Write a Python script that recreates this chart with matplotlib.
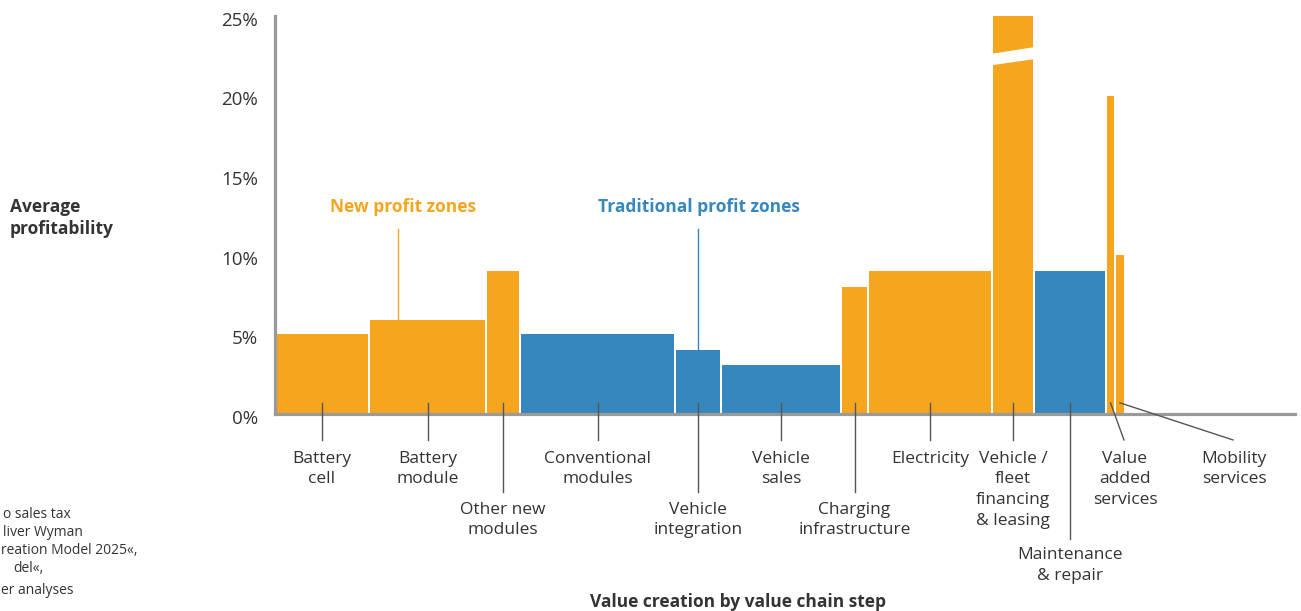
import matplotlib
matplotlib.use("Agg")
import matplotlib.pyplot as plt
from matplotlib.patches import Polygon

plt.rcParams['font.family'] = ['Open Sans', 'DejaVu Sans']

# =====================
#   DATA
# =====================
steps = ["Battery\ncell", "Battery\nmodule", "Other new\nmodules", "Conventional\nmodules",
         "Vehicle\nintegration", "Vehicle\nsales", "Charging\ninfrastructure", "Electricity",
         "Vehicle /\nfleet\nfinancing\n& leasing", "Maintenance\n& repair",
         "Value\nadded\nservices", "Mobility\nservices"]
value_creation = [95, 117, 34, 155, 46, 120, 27, 124, 42, 72, 9, 10]   # bar widths
profitability = [5.0, 5.9, 9.0, 5.0, 4.0, 3.1, 8.0, 9.0, 40.0, 9.0, 20.0, 10.0]
zone = ["new", "new", "new", "trad", "trad", "trad", "new", "new", "new", "trad", "new", "new"]
label_row = [0, 0, 1, 0, 1, 0, 1, 0, 0, 2, 0, 0]
yticks = [0, 5, 10, 15, 20, 25]
Y_CAP = 25

ORANGE = "#F6A51E"
BLUE = "#3787BF"
GRAY = "#9a9a9a"
TEXT = "#333333"
LEADER = "#555555"
GAP = 2
FS = 12.5

fig = plt.figure(figsize=(13.01, 6.11), dpi=100)
ax = fig.add_axes([275 / 1301, 1 - 414 / 611, 1020 / 1301, 398 / 611])
ax.set_xlim(0, 1020)
ax.set_ylim(0, Y_CAP)

lefts = []
x = 0
for w in value_creation:
    lefts.append(x)
    x += w
centers = [l + (w - GAP) / 2 for l, w in zip(lefts, value_creation)]

colors = [ORANGE if z == "new" else BLUE for z in zone]
ax.bar(lefts, profitability, width=[w - GAP for w in value_creation], align="edge",
       color=colors, linewidth=0, zorder=2)

# break mark on the bar that runs off the scale
i_big = profitability.index(max(profitability))
bx0 = lefts[i_big] - 2
bx1 = lefts[i_big] + value_creation[i_big]
ax.add_patch(Polygon([(bx0, 21.9), (bx1, 22.3), (bx1, 23.05), (bx0, 22.62)],
                     closed=True, facecolor="white", edgecolor="none", zorder=3))

# axes styling
for s in ["top", "right"]:
    ax.spines[s].set_visible(False)
for s in ["left", "bottom"]:
    ax.spines[s].set_color(GRAY)
    ax.spines[s].set_linewidth(2.3)
    ax.spines[s].set_zorder(4)
ax.set_xticks([])
ax.set_yticks([])
for t in yticks:
    ax.text(-17, t - 0.3, f"{t}%", ha="right", va="center", fontsize=13.5, color=TEXT)

# category labels with leader lines
row_end = [-1.63, -4.9, -7.85]
row_text = [-2.3, -5.5, -8.35]
label_x = list(centers)
label_x[10] = 850
label_x[11] = 959
leader_end_x = list(centers)
leader_end_x[10] = 849
leader_end_x[11] = 958
for i, name in enumerate(steps):
    r = label_row[i]
    ax.plot([centers[i], leader_end_x[i]], [0.7, row_end[r]], color=LEADER, lw=1,
            clip_on=False, zorder=5)
    ax.text(label_x[i], row_text[r], name, ha="center", va="top", fontsize=FS,
            color=TEXT, linespacing=1.4, clip_on=False)

# zone annotations
ax.text(128, 13.0, "New profit zones", ha="center", va="center", fontsize=FS,
        fontweight="bold", color=ORANGE)
ax.plot([centers[1] - 30, centers[1] - 30], [11.6, profitability[1]], color=ORANGE, lw=1)
ax.text(424, 13.0, "Traditional profit zones", ha="center", va="center", fontsize=FS,
        fontweight="bold", color=BLUE)
ax.plot([centers[4], centers[4]], [11.6, profitability[4]], color=BLUE, lw=1)

# axis titles
fig.text(10 / 1301, 1 - 218 / 611, "Average\nprofitability", ha="left", va="center",
         fontsize=FS, fontweight="bold", color=TEXT, linespacing=1.25)
fig.text(738 / 1301, 1 - 602 / 611, "Value creation by value chain step", ha="center",
         va="center", fontsize=FS, fontweight="bold", color=TEXT)

# source note (only the part visible at the left edge)
notes = [(3, 515, "o sales tax"), (3, 533, "liver Wyman"),
         (1, 551, "reation Model 2025«,"), (13, 569, "del«,"), (1, 590, "er analyses")]
for nx, ny, txt in notes:
    fig.text(nx / 1301, 1 - ny / 611, txt, ha="left", va="center", fontsize=10, color=TEXT)

fig.savefig("out.png", dpi=100)
